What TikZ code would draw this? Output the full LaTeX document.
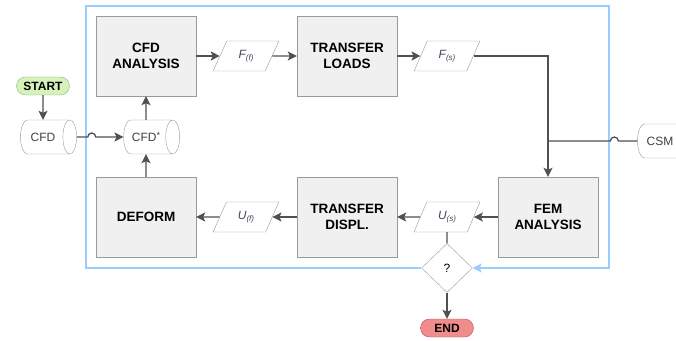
\documentclass[tikz,border=0pt]{standalone}
\usepackage{fontspec}
\setmainfont{Liberation Sans}
\usetikzlibrary{shapes.geometric, arrows.meta}
\definecolor{boxfill}{HTML}{F0F0F0}
\definecolor{boxline}{HTML}{9A9A9A}
\definecolor{wirecol}{HTML}{505050}
\definecolor{loopblue}{HTML}{99CCFF}
\definecolor{startfill}{HTML}{D5F2BD}
\definecolor{startline}{HTML}{8CB870}
\definecolor{endfill}{HTML}{F08C8C}
\definecolor{endline}{HTML}{B85450}
\definecolor{datatext}{HTML}{45455A}
\newcommand{\lowsub}[1]{\raisebox{-0.4ex}{\fontsize{8}{9}\selectfont #1}}
\tikzset{
    process/.style={draw=boxline, fill=boxfill, minimum width=100pt, minimum height=80pt,
        align=center, font=\fontsize{13.5}{16}\selectfont\bfseries},
    data/.style={trapezium, trapezium left angle=68, trapezium right angle=112,
        trapezium stretches=true, draw=boxline, fill=white, minimum width=66pt,
        minimum height=30pt, font=\fontsize{12}{13}\selectfont\itshape, text=datatext},
    store/.style={cylinder, shape aspect=0.9, draw=boxline, fill=white, minimum width=34pt,
        minimum height=56pt, font=\fontsize{12}{14}\selectfont, text=black!75},
    terminal/.style={draw=#1line, fill=#1fill, rounded corners=9pt, minimum width=53pt,
        minimum height=18pt, inner sep=1pt, font=\fontsize{12}{14}\selectfont\bfseries},
    decision/.style={diamond, draw=boxline, fill=white, minimum width=51pt, minimum height=49pt,
        inner sep=0pt, font=\fontsize{12}{14}\selectfont},
    wire/.style={draw=wirecol, line width=1.3pt},
    flow/.style={wire, -{Stealth[length=9pt, width=9pt, inset=2pt]}},
    loopline/.style={draw=loopblue, line width=1.2pt, -{Stealth[length=9pt, width=9pt, inset=2pt]}}
}

\begin{document}
\begin{tikzpicture}[x=1pt, y=1pt]
        \useasboundingbox (0,0) rectangle (676,340);
        % process boxes
        \node[process] (cfd) at (146,284) {CFD\\ANALYSIS};
        \node[process] (loads) at (347,284) {TRANSFER\\LOADS};
        \node[process] (fem) at (548,123) {FEM\\ANALYSIS};
        \node[process] (displ) at (347,123) {TRANSFER\\DISPL.};
        \node[process] (deform) at (146,123) {DEFORM};
        % data
        \node[data] (ff) at (246,284) {F\lowsub{(f)}};
        \node[data] (fs) at (447,284) {F\lowsub{(s)}};
        \node[data] (us) at (447,123) {U\lowsub{(s)}};
        \node[data] (uf) at (246,123) {U\lowsub{(f)}};
        % stores and terminals
        \node[store] (cfdin) at (43,203) {CFD};
        \node[store] (cfdstar) at (146,203) {CFD\raisebox{0.4ex}{\fontsize{9}{9}\selectfont*}};
        \node[store] (csm) at (660,199) {CSM};
        \node[terminal=start] (start) at (43,254) {START};
        \node[decision] (check) at (447,72) {?};
        \node[terminal=end] (finish) at (447,12) {END};
        % loop
        \coordinate (looptl) at (86,334);
        \coordinate (loopbr) at (609,72);
        \draw[loopline] (check.west) -| (looptl) -| (loopbr) -- (check.east);
        % connectors
        \draw[flow] (start) -- (cfdin);
        \draw[flow] (cfdin.east) -- ++(11,0) arc[start angle=180, end angle=0, radius=4pt] -- (cfdstar.west);
        \draw[flow] (cfdstar) -- (cfd);
        \draw[flow] (deform) -- (cfdstar);
        \draw[flow] (cfd) -- (ff);
        \draw[flow] (ff) -- (loads);
        \draw[flow] (loads) -- (fs);
        \draw[flow] (fs.east) -| (fem);
        \draw[wire] (csm.west) -- ++(-19,0) arc[start angle=0, end angle=180, radius=4pt] -- (fem.north |- csm.west);
        \draw[flow] (fem) -- (us);
        \draw[flow] (us) -- (displ);
        \draw[flow] (displ) -- (uf);
        \draw[flow] (uf) -- (deform);
        \draw[wire] (us) -- (check);
        \draw[flow] (check) -- (finish);
\end{tikzpicture}
\end{document}
